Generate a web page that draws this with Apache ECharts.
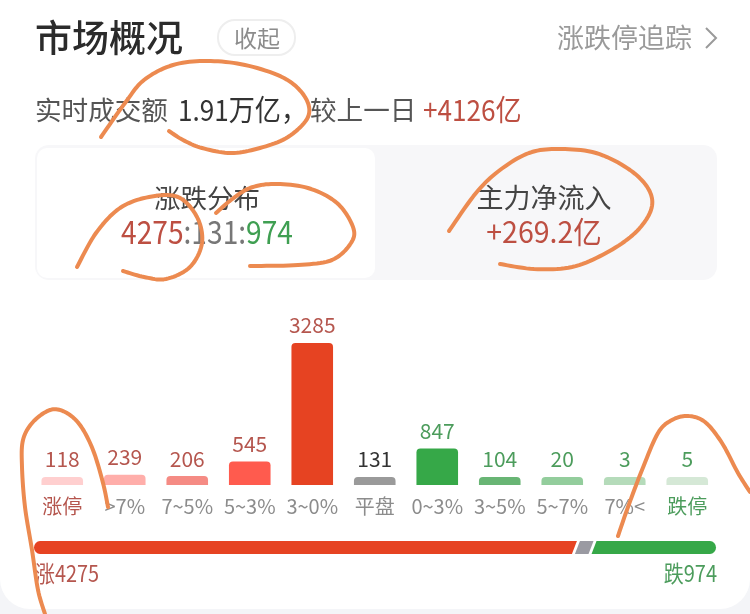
<!doctype html>
<html><head><meta charset="utf-8" />
<style>
  html,body,#app{margin:0;padding:0;width:750px;height:614px;background:#f4f5f8}
</style>
</head><body><div id="app"></div>
<script src="https://cdn.jsdelivr.net/npm/echarts@6/dist/echarts.min.js"></script>
<script>
// data
const categories = ['涨停','>7%','7~5%','5~3%','3~0%','平盘','0~3%','3~5%','5~7%','7%<','跌停'];
const stockCounts = [118,239,206,545,3285,131,847,104,20,3,5];
const splitCounts = [4275,131,974];
const turnover = '1.91万亿，';
const turnoverChange = '+4126亿';
const netInflow = '+269.2亿';

const barColors = ['#ffcfcf','#ffaeaa','#f58b84','#ff5b4e','#e64322','#9a9a9a','#36a848','#68b574','#93cd9c','#b5dbba','#d5e8d6'];
const labelColors = ['#b5564e','#b5564e','#b5564e','#b5564e','#b5564e','#333333','#4c9c5c','#4c9c5c','#4c9c5c','#4c9c5c','#4c9c5c'];
const axisColors = ['#b5564e','#8c8c8c','#8c8c8c','#8c8c8c','#8c8c8c','#8c8c8c','#8c8c8c','#8c8c8c','#8c8c8c','#8c8c8c','#4c9c5c'];
const splitColors = ['#e64322','#9a9aa2','#36a848'];

// hand drawn orange marks on the screenshot
const strokes = [
  [[101,137],[125,103],[144,80],[173,65],[207,61],[245,65],[284,78],[305,97],[308,117],[288,137],[260,148],[231,153],[202,148],[183,140],[169,131]],
  [[77,267],[96,233],[120,208],[149,197],[178,197],[197,217],[202,243],[190,267],[166,279],[144,277],[123,271]],
  [[250,266],[298,265],[332,260],[351,243],[353,227],[337,203],[308,188],[274,184],[250,188],[231,200],[216,213]],
  [[449,231],[476,193],[500,170],[529,153],[558,149],[596,153],[630,170],[649,190],[651,210],[635,233],[606,253],[572,267],[534,269],[500,264]],
  [[108,507],[103,483],[93,450],[80,425],[65,412],[50,410],[33,422],[23,440],[22,467],[25,507],[32,550],[38,590],[45,614]],
  [[618,536],[628,507],[642,470],[658,433],[672,420],[688,416],[705,422],[722,443],[738,473],[750,492]]
];

const FONT = '"Noto Sans CJK SC","Noto Sans",sans-serif';
// sx squeezes the text, the screenshot uses a narrow numeral font
function label(text, x, y, size, fill, align, weight, sx){
  return { type:'text', z:5, x, y, scaleX:sx||1, style:{ text, x:0, y:0, fill, textAlign:align||'left', textVerticalAlign:'middle',
    font:(weight||'normal')+' '+size+'px '+FONT } };
}

// catmull-rom through the hand picked points, so the pen marks stay round
function penLine(pts){
  const out = [];
  for(let i=0;i<pts.length-1;i++){
    const p0=pts[Math.max(i-1,0)], p1=pts[i], p2=pts[i+1], p3=pts[Math.min(i+2,pts.length-1)];
    for(let k=0;k<10;k++){
      const t=k/10, t2=t*t, t3=t2*t;
      out.push([0,1].map(a=>0.5*(2*p1[a]+(p2[a]-p0[a])*t+(2*p0[a]-5*p1[a]+4*p2[a]-p3[a])*t2+(3*p1[a]-p0[a]-3*p2[a]+p3[a])*t3)));
    }
  }
  out.push(pts[pts.length-1]);
  return out;
}

// split bar: rounded outer ends, slanted inner ends
function renderSplit(params, api){
  const i = params.dataIndex;
  const from = splitCounts.slice(0,i).reduce((a,b)=>a+b,0);
  const p0 = api.coord([from,0]), p1 = api.coord([from+splitCounts[i],0]);
  const h = 13, r = 6, s = 2.5, gap = 1.5;
  const top = p0[1]-h/2, bot = p0[1]+h/2;
  const l = p0[0]+(i?gap:0), e = p1[0]-(i<2?gap:0);
  let d;
  if(i===0) d = `M${l+r} ${top}L${e+s} ${top}L${e-s} ${bot}L${l+r} ${bot}A${r} ${h/2} 0 0 1 ${l+r} ${top}Z`;
  else if(i===2) d = `M${l+s} ${top}L${e-r} ${top}A${r} ${h/2} 0 0 1 ${e-r} ${bot}L${l-s} ${bot}Z`;
  else d = `M${l+s} ${top}L${e+s} ${top}L${e-s} ${bot}L${l-s} ${bot}Z`;
  return { type:'path', shape:{ pathData:d }, style:{ fill:splitColors[i] } };
}

const chart = echarts.init(document.getElementById('app'));
chart.setOption({
  animation:false,
  backgroundColor:'#f4f5f8',
  textStyle:{ fontFamily:FONT },
  grid:[
    { left:31, width:687.5, top:343, height:142 },
    { left:34, width:682, top:541, height:13 }
  ],
  xAxis:[
    { type:'category', gridIndex:0, data:categories,
      axisLine:{ show:false }, axisTick:{ show:false },
      axisLabel:{ interval:0, margin:9, fontSize:20, lineHeight:24, fontFamily:FONT, color:(v,i)=>axisColors[i] } },
    { type:'value', gridIndex:1, min:0, max:splitCounts.reduce((a,b)=>a+b,0), show:false }
  ],
  yAxis:[
    { type:'value', gridIndex:0, min:0, max:3285, show:false },
    { type:'value', gridIndex:1, min:-1, max:1, show:false }
  ],
  series:[
    { type:'bar', xAxisIndex:0, yAxisIndex:0, barWidth:41.6, barMinHeight:8,
      data:stockCounts.map((v,i)=>({ value:v, itemStyle:{ color:barColors[i] },
        label:{ color:labelColors[i] } })),
      itemStyle:{ borderRadius:[4,4,0,0] },
      label:{ show:true, position:'top', distance:7, fontSize:21, fontFamily:FONT } },
    { type:'custom', xAxisIndex:1, yAxisIndex:1, clip:false, renderItem:renderSplit,
      data:splitCounts.map((v,i)=>[i,v]) }
  ],
  graphic:[
    // card + tabs
    { type:'rect', z:0, shape:{ x:0, y:-60, width:750, height:669, r:30 }, style:{ fill:'#ffffff' } },
    { type:'rect', z:1, shape:{ x:35, y:145, width:682, height:135, r:14 }, style:{ fill:'#f7f7f9' } },
    { type:'rect', z:2, shape:{ x:37, y:148, width:338, height:130, r:10 }, style:{ fill:'#ffffff' } },
    label('市场概况', 35, 38, 37, '#2b2b2b', 'left', '500'),
    { type:'rect', z:3, shape:{ x:218, y:20, width:77, height:35, r:17 }, style:{ fill:'#ffffff', stroke:'#eeeeee', lineWidth:2 } },
    label('收起', 257, 38, 23, '#8c8c8c', 'center'),
    label('涨跌停追踪', 557, 38, 27, '#9a9a9a'),
    { type:'polyline', z:5, shape:{ points:[[706,28],[716,38],[706,48]] }, style:{ stroke:'#9a9a9a', fill:null, lineWidth:2 } },
    label('实时成交额', 35, 110, 26.6, '#555555'),
    label(turnover, 178, 110, 29, '#333333', 'left', 'normal', 0.9),
    label('较上一日', 310, 110, 26.6, '#555555'),
    label(turnoverChange, 423, 110, 29, '#bd4f42', 'left', 'normal', 0.9),
    label('涨跌分布', 207, 198, 26.5, '#444444', 'center'),
    { type:'text', z:5, x:207, y:232, scaleX:0.88, style:{ text:`{r|${splitCounts[0]}}{n|:${splitCounts[1]}:}{g|${splitCounts[2]}}`, x:0, y:0,
      textAlign:'center', textVerticalAlign:'middle', font:'32px '+FONT,
      rich:{ r:{ fill:'#bd4f42', font:'32px '+FONT }, n:{ fill:'#777777', font:'32px '+FONT }, g:{ fill:'#3f9f52', font:'32px '+FONT } } } },
    label('主力净流入', 544, 198, 27, '#444444', 'center'),
    label(netInflow, 544, 232, 30, '#bd4f42', 'center', 'normal', 0.95),
    label('涨'+splitCounts[0], 35, 573, 23, '#b5564e', 'left', 'normal', 0.865),
    label('跌'+splitCounts[2], 717, 573, 23, '#4c9c5c', 'right', 'normal', 0.87),
    // orange marks
    ...strokes.map(points=>({ type:'polyline', z:100, shape:{ points:penLine(points) },
      style:{ stroke:'#ec8a50', fill:null, lineWidth:4, lineCap:'round', lineJoin:'round' } }))
  ]
});
</script></body></html>
